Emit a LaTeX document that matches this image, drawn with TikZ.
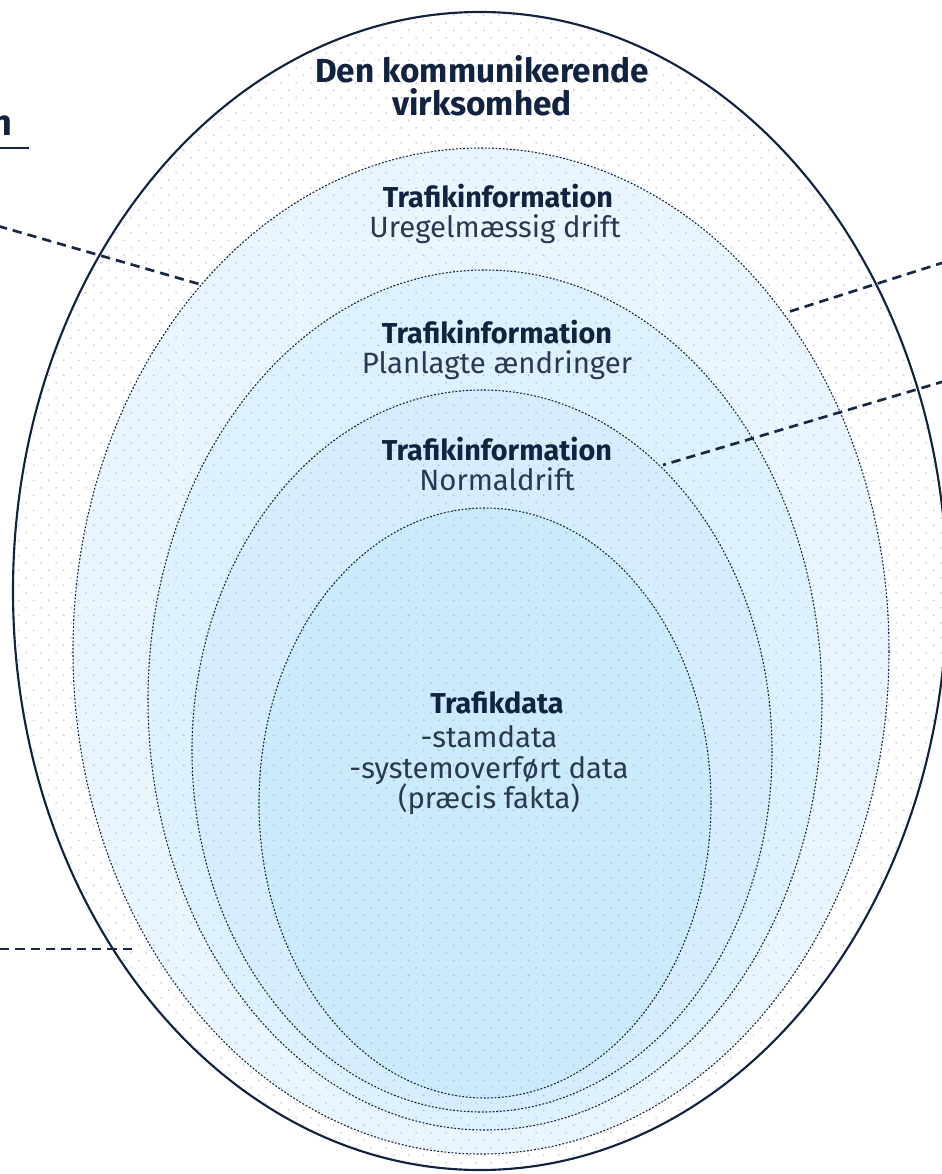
\documentclass[tikz,border=0pt]{standalone}
\usepackage{fontspec}
\setmainfont{Fira Sans}
\usetikzlibrary{patterns}
\definecolor{navy}{RGB}{17,35,64}
\definecolor{lineink}{RGB}{24,40,68}
\definecolor{bluea}{RGB}{234,246,255}
\definecolor{blueb}{RGB}{222,241,254}
\definecolor{bluec}{RGB}{213,237,254}
\definecolor{blued}{RGB}{204,234,254}
\definecolor{dotgray}{RGB}{140,140,155}
\pgfdeclarepatternformonly{dotgrid}{\pgfqpoint{0pt}{0pt}}{\pgfqpoint{11.5pt}{11.55pt}}{\pgfqpoint{11.5pt}{11.55pt}}{%
  \pgfpathcircle{\pgfqpoint{2.875pt}{2.8875pt}}{0.7pt}%
  \pgfpathcircle{\pgfqpoint{8.625pt}{8.6625pt}}{0.7pt}%
  \pgfusepath{fill}%
}
\tikzset{
  ring/.style={draw=navy, line width=0.8pt, dash pattern=on 1.4pt off 1.3pt},
  leader/.style={draw=lineink, line width=2pt, dash pattern=on 7pt off 4.5pt},
  bigtitle/.style={font=\fontsize{25}{27}\selectfont\bfseries, text=navy, inner sep=0pt, anchor=base},
  headtxt/.style={font=\fontsize{21.6}{24}\selectfont\bfseries, text=navy, inner sep=0pt, anchor=base},
  bodytxt/.style={font=\fontsize{22}{24}\selectfont, text=navy!90!white, inner sep=0pt, anchor=base},
}
\begin{document}
\begin{tikzpicture}[x=0.75pt, y=-0.75pt]
\useasboundingbox (0,0) rectangle (942,1174);
\clip (0,0) rectangle (942,1174);
% fills
\fill[white] (480,591) ellipse [x radius=467, y radius=579];
\fill[bluea] (481,651) ellipse [x radius=408, y radius=503];
\fill[blueb] (485,700) ellipse [x radius=337, y radius=430];
\fill[bluec] (482,751) ellipse [x radius=290, y radius=361];
\fill[blued] (485,803) ellipse [x radius=226, y radius=295];
% dot texture
\fill[pattern=dotgrid, pattern color=dotgray, fill opacity=0.5] (480,591) ellipse [x radius=467, y radius=579];
% outlines
\draw[ring] (481,651) ellipse [x radius=408, y radius=503];
\draw[ring] (485,700) ellipse [x radius=337, y radius=430];
\draw[ring] (482,751) ellipse [x radius=290, y radius=361];
\draw[ring] (485,803) ellipse [x radius=226, y radius=295];
\draw[navy, line width=1.6pt] (480,591) ellipse [x radius=467, y radius=579];
% texts
\node[bigtitle] (t1) at (482,82) {Den kommunikerende};
\node[bigtitle] (t2) at (482,115) {virksomhed};
\node[headtxt] (a1) at (498,207) {Trafikinformation};
\node[bodytxt] (a2) at (495,237) {Uregelmæssig drift};
\node[headtxt] (b1) at (497,343) {Trafikinformation};
\node[bodytxt] (b2) at (497,373) {Planlagte ændringer};
\node[headtxt] (c1) at (497,460) {Trafikinformation};
\node[bodytxt] (c2) at (497,490) {Normaldrift};
\node[headtxt] (d1) at (497,713) {Trafikdata};
\node[bodytxt] (d2) at (489,747) {-stamdata};
\node[bodytxt] (d3) at (489,778) {-systemoverført data};
\node[bodytxt] (d4) at (489,808) {(præcis fakta)};
% clipped side label
\node[font=\fontsize{27}{30}\selectfont\bfseries, text=navy, inner sep=0pt, anchor=base east] (side) at (13,135) {n};
\coordinate (ulA) at (0,148);
\coordinate (ulB) at (29,148);
\draw[navy, line width=1.2pt] (ulA) -- (ulB);
% leader lines
\coordinate (L1a) at (-2,226);
\coordinate (L1b) at (199,284);
\coordinate (R1a) at (945,262);
\coordinate (R1b) at (785,313);
\coordinate (R2a) at (945,381);
\coordinate (R2b) at (663,465);
\coordinate (L2a) at (0,949);
\coordinate (L2b) at (135,949);
\draw[leader] (L1a) -- (L1b);
\draw[leader] (R1a) -- (R1b);
\draw[leader] (R2a) -- (R2b);
\draw[leader] (L2a) -- (L2b);
\end{tikzpicture}
\end{document}
